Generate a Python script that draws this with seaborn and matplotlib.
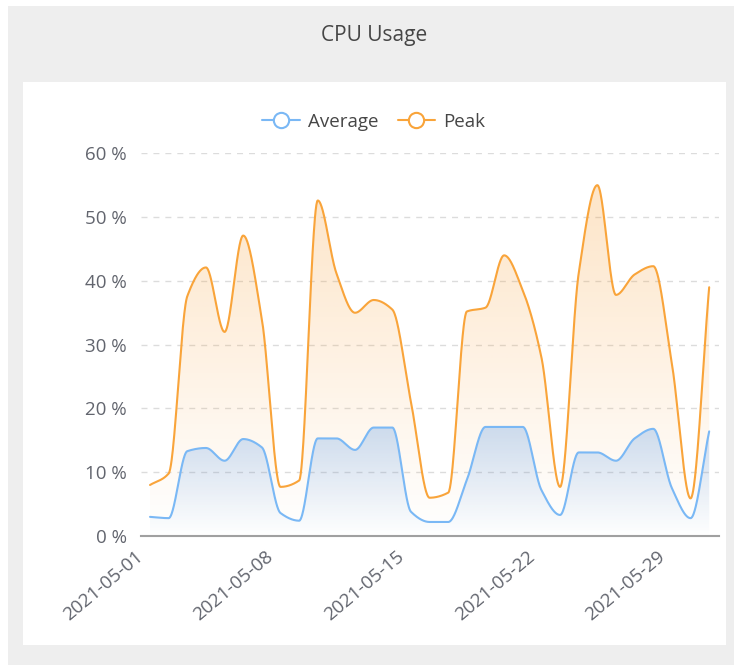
import numpy as np
import pandas as pd
import matplotlib
matplotlib.use("Agg")
import matplotlib.pyplot as plt
import matplotlib.dates as mdates
from matplotlib.lines import Line2D
from matplotlib.patches import Rectangle
import seaborn as sns

# daily samples (taken at noon), May 2021
dates = pd.date_range("2021-05-01 12:00", periods=31, freq="D")
average = [3.0, 2.8, 13.3, 13.8, 11.8, 15.2, 13.9, 3.6, 2.4, 15.3,
           15.3, 13.5, 17.0, 17.0, 3.8, 2.2, 2.2, 8.8, 17.1, 17.1,
           17.1, 7.2, 3.3, 13.1, 13.1, 11.8, 15.3, 16.8, 7.5, 2.8, 16.4]
peak = [8.0, 9.8, 37.6, 42.1, 32.0, 47.1, 34.0, 7.7, 8.7, 52.6,
        41.2, 35.0, 37.0, 35.5, 21.0, 6.0, 6.8, 35.2, 35.8, 44.0,
        38.5, 28.0, 7.7, 41.2, 55.0, 37.8, 41.0, 42.3, 27.0, 5.9, 39.0]
series_names = ["Average", "Peak"]
series_colors = {"Average": "#7ab8f5", "Peak": "#f9a43a"}
fill_rgb = {"Average": (0.30, 0.58, 0.92), "Peak": (0.98, 0.62, 0.20)}
fill_alpha = {"Average": 0.28, "Peak": 0.27}
y_ticks = [0, 10, 20, 30, 40, 50, 60]
x_ticks = ["2021-05-01", "2021-05-08", "2021-05-15", "2021-05-22", "2021-05-29"]


def pchip(x, y, xs):
    # monotone cubic, keeps the plateaus flat like the original smoothing
    x = np.asarray(x, float)
    y = np.asarray(y, float)
    h = np.diff(x)
    d = np.diff(y) / h
    m = np.zeros_like(y)
    for k in range(1, len(y) - 1):
        if d[k - 1] * d[k] > 0:
            w1 = 2 * h[k] + h[k - 1]
            w2 = h[k] + 2 * h[k - 1]
            m[k] = (w1 + w2) / (w1 / d[k - 1] + w2 / d[k])
    m[0] = d[0]
    m[-1] = d[-1]
    i = np.clip(np.searchsorted(x, xs) - 1, 0, len(x) - 2)
    t = (xs - x[i]) / h[i]
    h00 = 2 * t**3 - 3 * t**2 + 1
    h10 = t**3 - 2 * t**2 + t
    h01 = -2 * t**3 + 3 * t**2
    h11 = t**3 - t**2
    return h00 * y[i] + h10 * h[i] * m[i] + h01 * y[i + 1] + h11 * h[i] * m[i + 1]


sns.set_theme(style="white")
plt.rcParams["font.family"] = ["Open Sans", "DejaVu Sans"]

fig = plt.figure(figsize=(7.34, 6.65), dpi=100)
fig.patch.set_facecolor("white")
fig.patches.append(Rectangle((8 / 734, 0), 1, 1 - 6 / 665, transform=fig.transFigure,
                             facecolor="#eeeeee", edgecolor="none", zorder=-10))
fig.patches.append(Rectangle((22.7 / 734, 1 - 645 / 665), (726 - 22.7) / 734, (645 - 82.3) / 665,
                             transform=fig.transFigure, facecolor="white", edgecolor="none", zorder=-9))

ax = fig.add_axes([140.7 / 734, 1 - 536 / 665, (718.5 - 140.7) / 734, (536 - 153.3) / 665])
ax.set_facecolor("none")

xnum = mdates.date2num(dates)
xs = np.linspace(xnum[0], xnum[-1], 1500)
frames = []
for name, vals in zip(series_names, [average, peak]):
    frames.append(pd.DataFrame({"x": xs, "value": pchip(xnum, vals, xs), "series": name}))
dense = pd.concat(frames, ignore_index=True)

# gradient fills, peak first so average sits on top
for name, z in [("Peak", 1), ("Average", 2)]:
    sub = dense[dense.series == name]
    x, y = sub.x.values, sub.value.values
    poly, = ax.fill(np.r_[x[0], x, x[-1]], np.r_[0, y, 0], facecolor="none", edgecolor="none")
    grad = np.zeros((256, 1, 4))
    grad[..., :3] = fill_rgb[name]
    grad[..., 3] = np.linspace(0.0, fill_alpha[name], 256)[:, None]
    im = ax.imshow(grad, aspect="auto", origin="lower", extent=[x[0], x[-1], 0, y.max()],
                   zorder=z, interpolation="bilinear")
    im.set_clip_path(poly)

sns.lineplot(data=dense, x="x", y="value", hue="series", palette=series_colors,
             hue_order=series_names, linewidth=1.5, legend=False, ax=ax, zorder=3,
             estimator=None, sort=False)

ax.set_xlim(mdates.date2num(pd.Timestamp("2021-05-01")), mdates.date2num(pd.Timestamp("2021-06-01")))
ax.set_ylim(0, 60)
ax.set_xlabel("")
ax.set_ylabel("")

ax.set_yticks(y_ticks)
ax.set_yticklabels([f"{v} %" for v in y_ticks], fontsize=13.5, color="#62656e")
ax.set_xticks(mdates.date2num(pd.to_datetime(x_ticks)))
ax.set_xticklabels(x_ticks, fontsize=13.5, color="#62656e", rotation=40,
                   ha="right", va="center", rotation_mode="anchor")
ax.tick_params(axis="y", length=0, pad=10)
ax.tick_params(axis="x", length=5, width=1, color="#6e7079", pad=8, direction="out")
for y in y_ticks[1:]:
    ax.axhline(y, color="#dcdcdc", lw=1, ls=(0, (4.3, 4.3)), zorder=0)

for s in ["top", "right", "left"]:
    ax.spines[s].set_visible(False)
ax.spines["bottom"].set_color("#a0a0a0")
ax.spines["bottom"].set_linewidth(1.5)
ax.spines["bottom"].set_zorder(4)

fig.text(374 / 734, 1 - 35 / 665, "CPU Usage", ha="center", va="center",
         fontsize=15, color="#464646")

handles = [Line2D([0], [0], color=series_colors[n], lw=1.5, marker="o", markersize=11,
                  markerfacecolor="white", markeredgewidth=1.5) for n in series_names]
leg = fig.legend(handles, series_names, loc="center", bbox_to_anchor=(374 / 734, 1 - 122 / 665),
                 ncol=2, frameon=False, fontsize=13.5, handlelength=2.0, handletextpad=0.45,
                 columnspacing=1.0)
for t in leg.get_texts():
    t.set_color("#464646")

fig.savefig("out.png", dpi=100, facecolor=fig.get_facecolor())
